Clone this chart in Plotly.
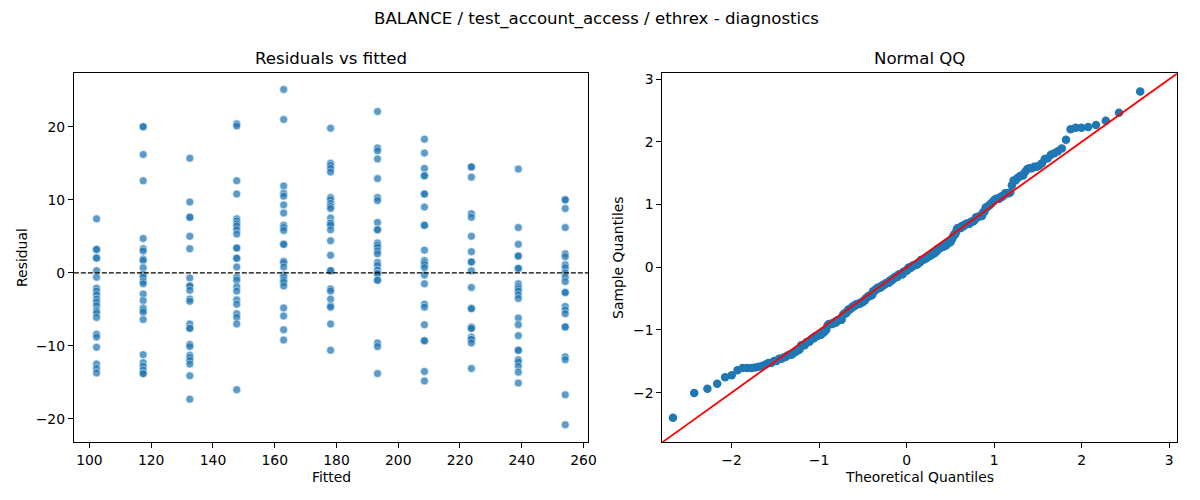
from statistics import NormalDist

import numpy as np
import plotly.graph_objects as go

# Data
suptitle = "BALANCE / test_account_access / ethrex - diagnostics"

fitted_levels = [102.3, 117.4, 132.5, 147.7, 162.9, 178.1, 193.3, 208.5, 223.7, 238.9, 254.1]

res_102 = [7.4, 3.2, 3.2, 2.1, 2.0, 0.3, -0.6, -2.1, -2.5, -3.0, -3.6, -4.0, -4.5, -5.2, -5.5, -6.1,
           -8.4, -8.8, -10.2, -12.5, -13.1, -13.7]
res_117 = [20.0, 20.0, 16.2, 12.6, 4.7, 3.3, 3.0, 1.9, 1.7, 0.7, -0.2, -0.6, -1.2, -1.5, -2.9, -3.8,
           -4.8, -5.1, -5.4, -6.4, -11.2, -12.3, -12.8, -13.3, -13.8, -13.8]
res_132 = [15.7, 9.7, 7.6, 7.6, 5.0, 3.3, -0.7, -1.8, -1.8, -2.4, -3.6, -3.9, -7.0, -7.6, -7.6, -9.8,
           -10.1, -11.3, -11.6, -12.0, -12.5, -14.1, -17.3]
res_148 = [20.4, 20.1, 12.6, 10.8, 7.4, 7.1, 6.7, 6.4, 5.9, 5.3, 3.4, 3.4, 2.0, 2.0, 0.8, -0.6, -1.0,
           -1.9, -2.5, -3.7, -4.3, -5.6, -6.1, -7.0, -16.0]
res_163 = [25.1, 21.0, 11.9, 10.9, 10.5, 9.3, 8.2, 6.5, 6.2, 5.8, 3.9, 3.9, 1.6, 1.4, 0.8, -0.3, -0.6,
           -1.0, -1.3, -1.8, -4.8, -5.9, -7.8, -9.2]
res_178 = [19.8, 15.0, 14.7, 14.3, 13.8, 10.3, 10.0, 9.5, 9.1, 8.8, 7.5, 6.8, 6.8, 6.5, 5.9, 4.4, 2.4,
           0.3, 0.3, -2.2, -2.5, -3.6, -4.5, -4.7, -7.0, -10.6]
res_193 = [22.1, 17.1, 16.7, 15.6, 12.9, 10.3, 9.9, 6.9, 5.9, 5.9, 4.1, 3.8, 3.5, 3.0, 2.6, 1.4, 1.0,
           0.4, -0.1, -0.1, -1.0, -1.0, -9.6, -10.1, -13.8]
res_208 = [18.3, 16.4, 14.3, 13.3, 13.3, 10.8, 10.8, 9.0, 6.5, 6.5, 3.1, 1.7, 1.4, 1.1, 0.7, -0.3,
           -1.5, -4.3, -4.7, -7.1, -9.3, -9.3, -13.5, -14.8]
res_224 = [14.5, 14.5, 13.1, 8.1, 7.6, 5.0, 2.9, 1.5, 1.5, 0.3, -2.0, -4.9, -4.9, -7.4, -7.6, -7.6,
           -8.8, -9.1, -9.1, -9.6, -13.1]
res_239 = [14.2, 6.2, 3.9, 2.3, 2.3, 0.6, 0.6, -1.5, -1.9, -2.2, -2.5, -3.0, -3.5, -6.2, -7.1, -8.6,
           -10.6, -10.6, -11.9, -12.2, -12.8, -13.6, -15.1]
res_254 = [10.0, 10.0, 8.8, 6.2, 2.6, 2.2, 1.1, 0.7, 0.0, -0.6, -1.2, -2.7, -2.7, -4.6, -5.1, -5.6,
           -7.4, -7.4, -11.5, -11.9, -16.7, -20.8]

residual_groups = [res_102, res_117, res_132, res_148, res_163, res_178,
                   res_193, res_208, res_224, res_239, res_254]

fitted_ticks = [100, 120, 140, 160, 180, 200, 220, 240, 260]
residual_ticks = [-20, -10, 0, 10, 20]
qq_ticks = [-2, -1, 0, 1, 2, 3]

# long form for the scatter
fitted = []
residuals = []
for lvl, grp in zip(fitted_levels, residual_groups):
    fitted += [lvl] * len(grp)
    residuals += grp
residuals = np.array(residuals)

# normal QQ (standardised residuals vs normal quantiles, positions i/(n+1))
n = len(residuals)
sample_q = np.sort((residuals - residuals.mean()) / residuals.std())
theo_q = np.array([NormalDist().inv_cdf(i / (n + 1)) for i in range(1, n + 1)])

qq_range = [-2.79, 3.09]

# the page puts the plot 8px in from the window corner
W, H, OFF = 1200, 500, 8


def px(x):
    return (x - OFF) / W


def py(y):
    return 1 - (y - OFF) / H


font = "DejaVu Sans"
fig = go.Figure()

fig.add_trace(go.Scatter(
    x=fitted, y=residuals, mode="markers", xaxis="x", yaxis="y",
    marker=dict(size=8, color="#1f77b4", opacity=0.72, line=dict(color="white", width=0.6)),
    showlegend=False,
))
fig.add_trace(go.Scatter(
    x=theo_q, y=sample_q, mode="markers", xaxis="x2", yaxis="y2",
    marker=dict(size=8.5, color="#1f77b4"),
    showlegend=False,
))
# 45 degree reference line across the whole axes
fig.add_trace(go.Scatter(
    x=qq_range, y=qq_range, mode="lines", xaxis="x2", yaxis="y2",
    line=dict(color="red", width=1.8), showlegend=False,
))

fig.add_shape(type="line", xref="x domain", yref="y", x0=0, x1=1, y0=0, y1=0,
              line=dict(color="black", width=1.3, dash="5px,2px"))

axis_style = dict(showline=True, linecolor="black", linewidth=1, mirror=True,
                  ticks="outside", ticklen=5, tickcolor="black", tickwidth=1,
                  showgrid=False, zeroline=False,
                  tickfont=dict(family=font, size=13.9, color="black"))

ydom = [py(442), py(71.7)]
fig.update_layout(
    width=W, height=H,
    margin=dict(l=0, r=0, t=0, b=0),
    paper_bgcolor="white", plot_bgcolor="white",
    font=dict(family=font, color="black"),
    xaxis=dict(domain=[px(74.3), px(592.3)], range=[94.95, 261.6], tickvals=fitted_ticks,
               anchor="y", **axis_style),
    yaxis=dict(domain=ydom, range=[-23.2, 27.3], tickvals=residual_ticks,
               anchor="x", **axis_style),
    xaxis2=dict(domain=[px(666.7), px(1185)], range=qq_range, tickvals=qq_ticks,
                anchor="y2", **axis_style),
    yaxis2=dict(domain=ydom, range=qq_range, tickvals=qq_ticks,
                anchor="x2", **axis_style),
)

labels = [
    (suptitle, 600, 17.5, 16.6, 0),
    ("Residuals vs fitted", 333.3, 56.5, 16.6, 0),
    ("Normal QQ", 926, 56.5, 16.6, 0),
    ("Fitted", 333.3, 477, 13.9, 0),
    ("Theoretical Quantiles", 926, 477, 13.9, 0),
    ("Residual", 22, 256, 13.9, -90),
    ("Sample Quantiles", 622, 256, 13.9, -90),
]
for text, x, y, size, angle in labels:
    fig.add_annotation(text=text, x=px(x), y=py(y), xref="paper", yref="paper",
                       xanchor="center", yanchor="middle", showarrow=False,
                       textangle=angle, font=dict(family=font, size=size, color="black"))

fig.write_html("out.html", config={"displayModeBar": False})
